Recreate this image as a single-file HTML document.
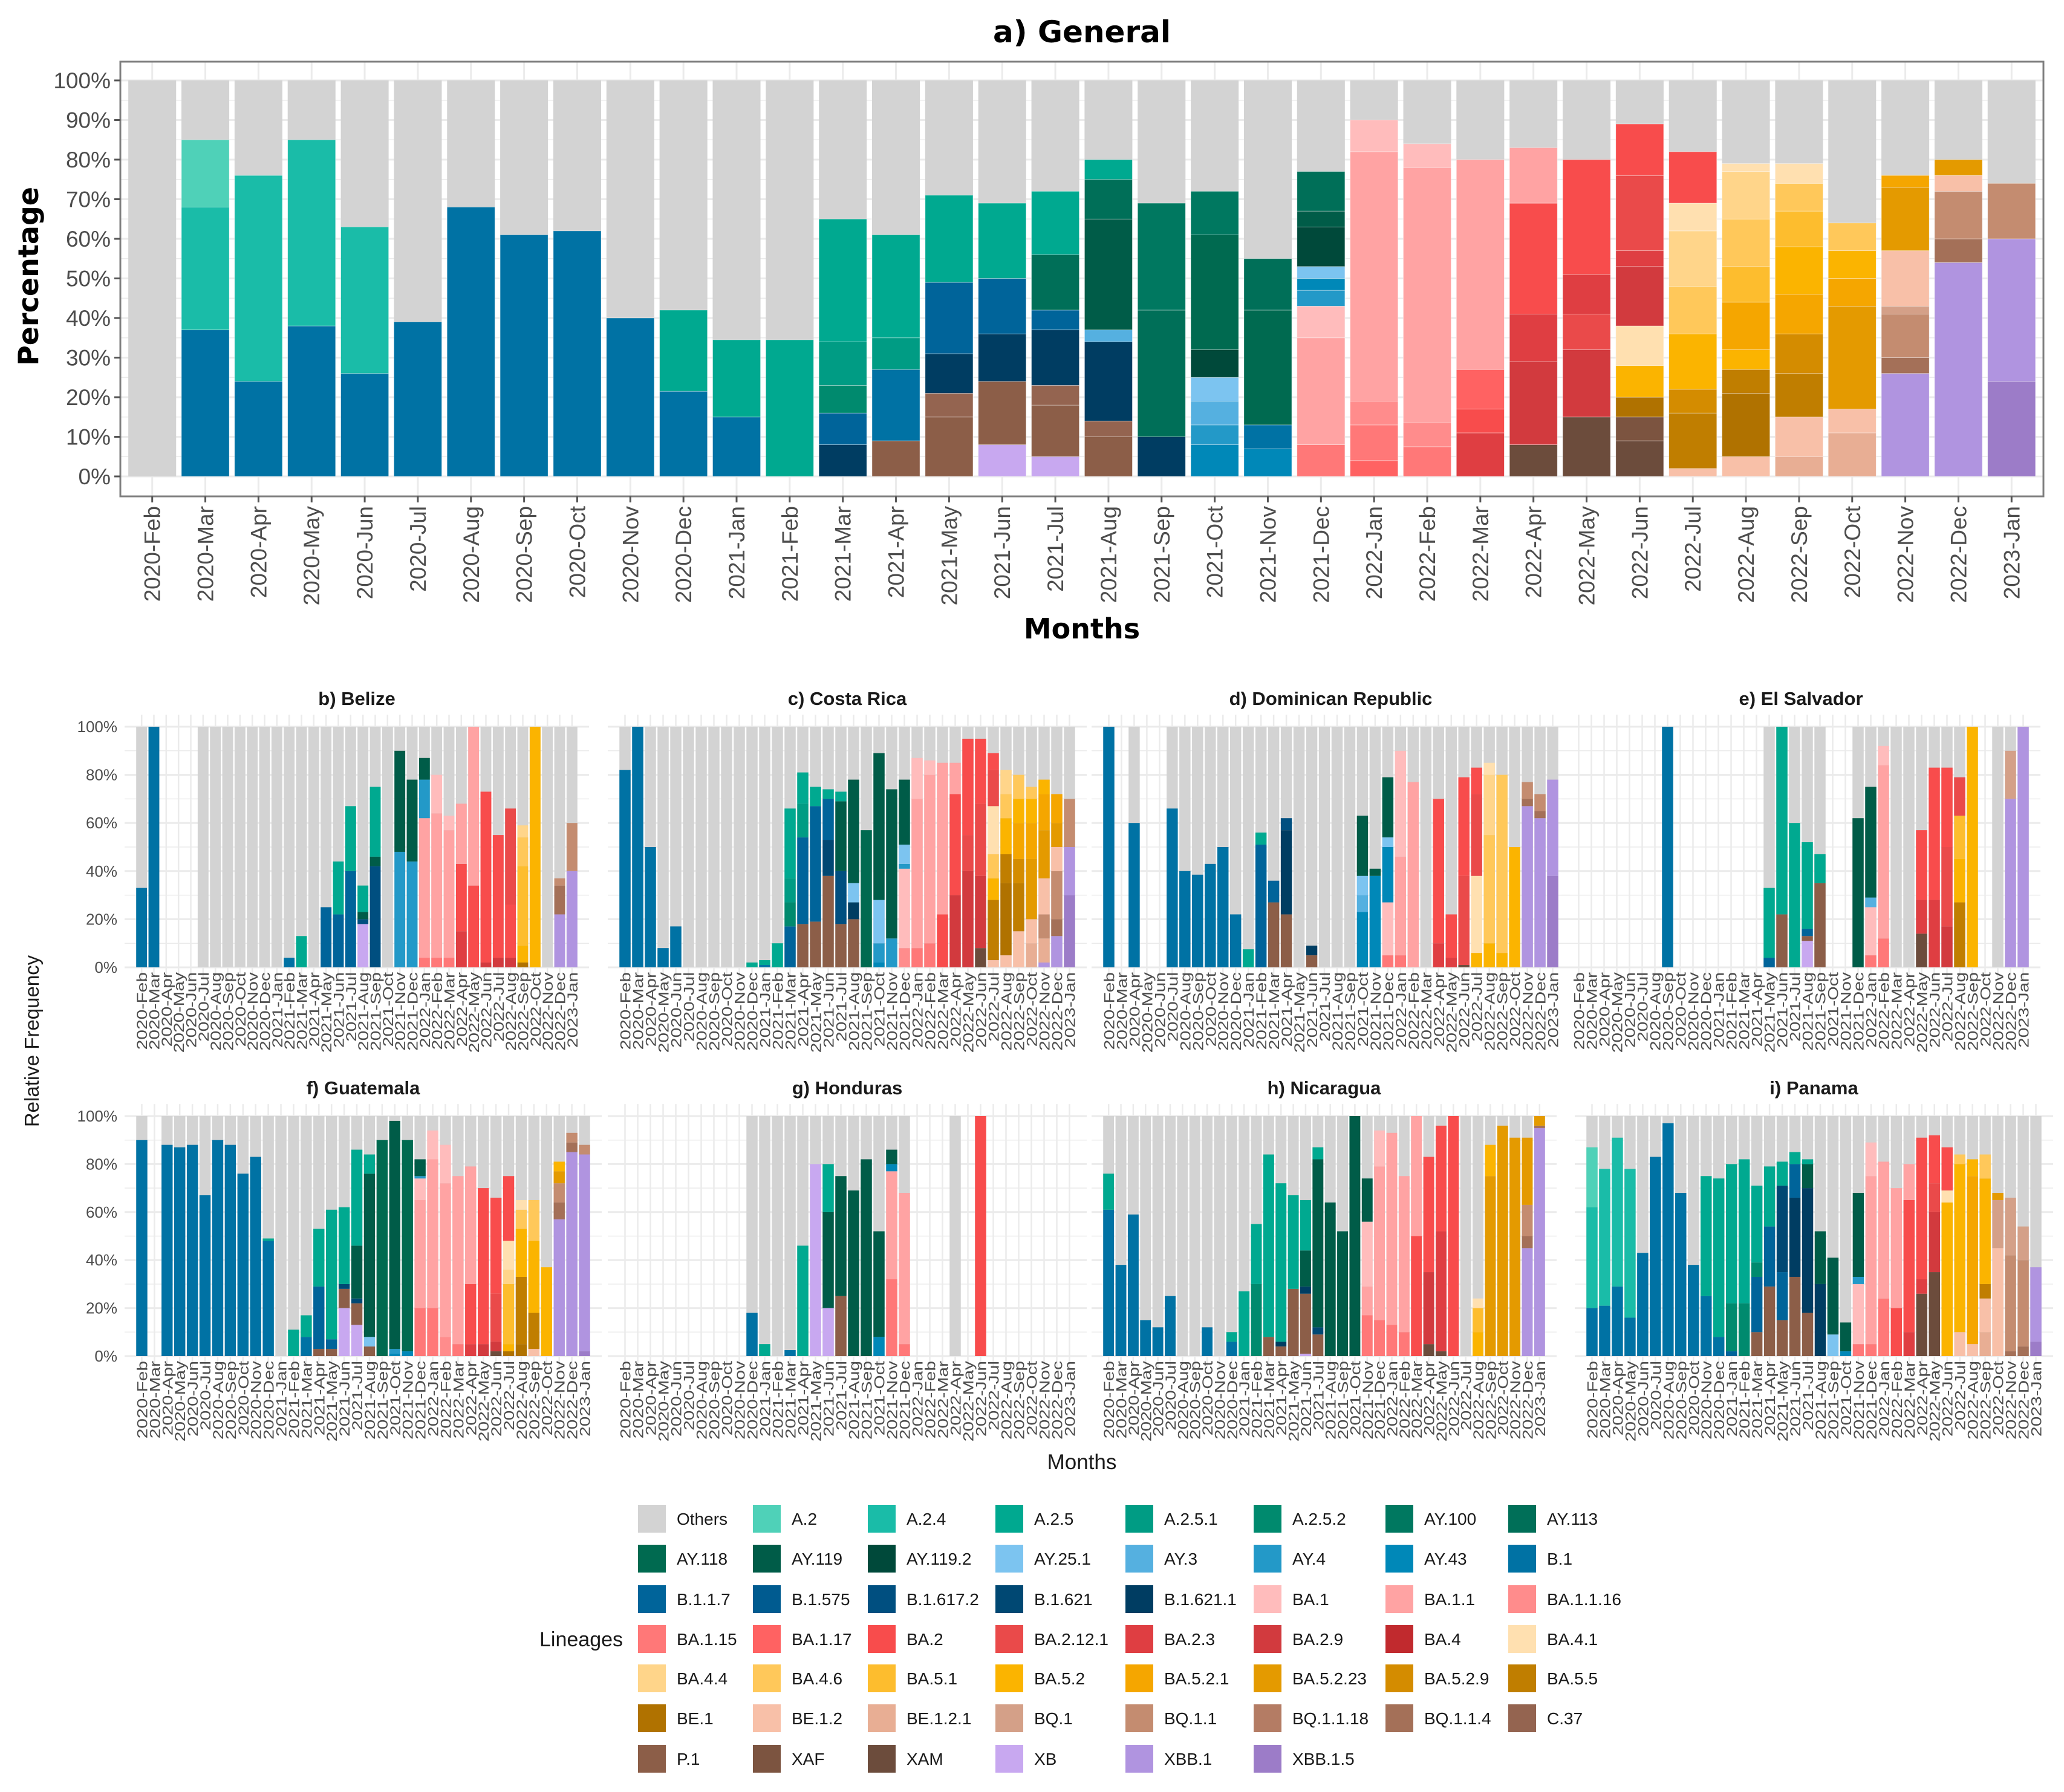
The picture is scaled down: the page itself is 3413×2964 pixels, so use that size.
<!DOCTYPE html>
<html><head><meta charset="utf-8"><style>
html,body{margin:0;padding:0;background:#fff}
svg{display:block;font-family:"Liberation Sans",sans-serif}
</style></head><body>
<svg id="chart" width="3413" height="2964" viewBox="0 0 3413 2964" xmlns="http://www.w3.org/2000/svg"></svg>
<script>
const months = ["2020-Feb","2020-Mar","2020-Apr","2020-May","2020-Jun","2020-Jul","2020-Aug","2020-Sep","2020-Oct","2020-Nov","2020-Dec","2021-Jan","2021-Feb","2021-Mar","2021-Apr","2021-May","2021-Jun","2021-Jul","2021-Aug","2021-Sep","2021-Oct","2021-Nov","2021-Dec","2022-Jan","2022-Feb","2022-Mar","2022-Apr","2022-May","2022-Jun","2022-Jul","2022-Aug","2022-Sep","2022-Oct","2022-Nov","2022-Dec","2023-Jan"];
const lineageNames = ["Others","A.2","A.2.4","A.2.5","A.2.5.1","A.2.5.2","AY.100","AY.113","AY.118","AY.119","AY.119.2","AY.25.1","AY.3","AY.4","AY.43","B.1","B.1.1.7","B.1.575","B.1.617.2","B.1.621","B.1.621.1","BA.1","BA.1.1","BA.1.1.16","BA.1.15","BA.1.17","BA.2","BA.2.12.1","BA.2.3","BA.2.9","BA.4","BA.4.1","BA.4.4","BA.4.6","BA.5.1","BA.5.2","BA.5.2.1","BA.5.2.23","BA.5.2.9","BA.5.5","BE.1","BE.1.2","BE.1.2.1","BQ.1","BQ.1.1","BQ.1.1.18","BQ.1.1.4","C.37","P.1","XAF","XAM","XB","XBB.1","XBB.1.5"];
const lineageColors = ["#d3d3d3","#4fd1b8","#1abca8","#00a990","#009c84","#008a6e","#007860","#006f58","#006a50","#005c48","#00493a","#7cc4f0","#55b0e0","#2399c8","#0088b8","#0072a4","#00649a","#005b90","#004f80","#004873","#003d62","#ffbcbc","#ffa3a3","#ff8c8c","#ff7878","#ff6262","#f84c4c","#ea4a4a","#df3e42","#d23a3e","#c12a2e","#ffe0b0","#ffd58a","#ffc85a","#fdbd2e","#fbb400","#f5a600","#e49a00","#d48c00","#c07e00","#b07200","#f8c0a8","#e8ae94","#d4a088","#c48c70","#b47c64","#a47058","#946450","#8c5e48","#7c5440","#6c4c3c","#c8a8f0","#b094e0","#9c7cc8"];

const generalStacks = ["","B.1:37,A.2.4:31,A.2:17","B.1:24,A.2.4:52","B.1:38,A.2.4:47","B.1:26,A.2.4:37","B.1:39","B.1:68","B.1:61","B.1:62","B.1:40","B.1:21.5,A.2.5:20.5","B.1:15,A.2.5:19.5","A.2.5:34.5","B.1.621.1:8,B.1.1.7:8,A.2.5.2:7,A.2.5.1:11,A.2.5:31","P.1:9,B.1:18,A.2.5.1:8,A.2.5:26","P.1:15,C.37:6,B.1.621.1:10,B.1.1.7:18,A.2.5:22","XB:8,P.1:16,B.1.621.1:12,B.1.1.7:14,A.2.5:19","XB:5,P.1:13,C.37:5,B.1.621.1:14,B.1.1.7:5,AY.113:14,A.2.5:16","P.1:10,C.37:4,B.1.621.1:20,AY.3:3,AY.119:28,AY.113:10,A.2.5:5","B.1.621.1:10,AY.113:32,AY.100:27","AY.43:8,AY.4:5,AY.3:6,AY.25.1:6,AY.119.2:7,AY.118:29,AY.100:11","AY.43:7,B.1:6,AY.118:29,AY.113:13","BA.1.15:8,BA.1.1:27,BA.1:8,AY.4:4,AY.43:3,AY.25.1:3,AY.119.2:10,AY.119:4,AY.113:10","BA.1.17:4,BA.1.15:9,BA.1.1.16:6,BA.1.1:63,BA.1:8","BA.1.15:7.5,BA.1.1.16:6,BA.1.1:64.5,BA.1:6","BA.2.3:11,BA.2:6,BA.1.17:10,BA.1.1:53","XAM:8,BA.2.9:21,BA.2.3:12,BA.2:28,BA.1.1:14","XAM:15,BA.2.9:17,BA.2.12.1:9,BA.2.3:10,BA.2:29","XAM:9,XAF:6,BE.1:5,BA.5.2:8,BA.4.1:10,BA.2.9:15,BA.2.3:4,BA.2.12.1:19,BA.2:13","BE.1.2:2,BA.5.5:14,BA.5.2.9:6,BA.5.2:14,BA.4.6:12,BA.4.4:14,BA.4.1:7,BA.2:13","BE.1.2:5,BE.1:16,BA.5.5:6,BA.5.2:5,BA.5.2.1:12,BA.5.1:9,BA.4.6:12,BA.4.4:12,BA.4.1:2","BE.1.2.1:5,BE.1.2:10,BA.5.5:11,BA.5.2.9:10,BA.5.2.1:10,BA.5.2:12,BA.5.1:9,BA.4.6:7,BA.4.1:5","BE.1.2.1:11,BE.1.2:6,BA.5.2.23:26,BA.5.2.1:7,BA.5.2:7,BA.4.6:7","XBB.1:26,BQ.1.1.4:4,BQ.1.1:11,BQ.1:2,BE.1.2:14,BA.5.2.23:16,BA.5.2.1:3","XBB.1:54,BQ.1.1.4:6,BQ.1.1:12,BE.1.2:4,BA.5.2.23:4","XBB.1.5:24,XBB.1:36,BQ.1.1:14"];

const belizeStacks = ["B.1:33","B.1:100",null,null,null,"","","","","","","","B.1:4","A.2.5:13","","B.1.1.7:25","B.1.1.7:22,A.2.5:22","B.1.1.7:40,A.2.5:27","XB:18,B.1.617.2:2,AY.119:3,A.2.5:11","B.1.617.2:42,AY.119:4,A.2.5:29","","AY.4:48,AY.119:42","AY.4:44,AY.119:34","BA.1.15:4,BA.1.1:58,AY.4:16,AY.119:9","BA.1.15:4,BA.1.1:60,BA.1:16","BA.1.15:4,BA.1.1:53,BA.1:6","BA.2.3:15,BA.2:28,BA.1.1:25","BA.2:34,BA.1.1:66","BA.2.9:2,BA.2:71","BA.2.9:4,BA.2:51","BA.2.9:4,BA.2:22,BA.2.12.1:40","BE.1:2,BA.5.2:7,BA.5.1:33,BA.4.6:12,BA.4.4:5","BA.5.2:100","","XBB.1:22,BQ.1.1.4:12,BQ.1.1:3","XBB.1:40,BQ.1.1:20"];
const costaRicaStacks = ["B.1:82","B.1:100","B.1:50","B.1:8","B.1:17","","","","","","A.2.5:2","B.1:1,A.2.5:2","A.2.5:10","B.1.1.7:17,A.2.5.2:10,A.2.5.1:10,A.2.5:29","P.1:18,B.1.1.7:36,A.2.5.1:14,A.2.5:13","P.1:19,B.1.1.7:48,A.2.5:8","P.1:38,B.1.621:15,B.1.1.7:17,A.2.5:4","P.1:18,B.1.617.2:22,AY.119:29,A.2.5:4","P.1:20,B.1.621.1:7,AY.25.1:8,AY.119:43","AY.118:57","AY.43:2,AY.4:8,AY.25.1:18,AY.119:61","AY.4:12,AY.119:62","BA.1.1.16:8,BA.1:33,AY.4:2,AY.25.1:8,AY.119:27","BA.1.15:8,BA.1.1:62,BA.1:17","BA.1.15:10,BA.1.1:70,BA.1:6","BA.2:22,BA.1.1:63","BA.2.9:30,BA.2:42,BA.1.1:13","BA.2.9:40,BA.2.12.1:15,BA.2:40","XAM:8,BA.2.9:30,BA.2.12.1:30,BA.2:27","BE.1.2:3,BA.5.5:25,BA.5.2:9,BA.4.6:10,BA.4.1:20,BA.2.12.1:15,BA.2:7","BE.1.2:5,BE.1:30,BA.5.5:12,BA.5.2:15,BA.4.6:10,BA.4.4:10","BE.1.2:15,BA.5.5:20,BA.5.2.9:10,BA.5.2.1:15,BA.5.2:10,BA.4.6:10","BE.1.2.1:10,BE.1.2:10,BA.5.2.23:25,BA.5.2.1:15,BA.5.2:10,BA.4.6:5","XBB.1:2,BE.1.2.1:10,BQ.1.1:10,BE.1.2:15,BA.5.2.23:20,BA.5.2.1:15,BA.5.2:6","XBB.1:13,BQ.1.1.4:7,BQ.1.1:20,BE.1.2:10,BA.5.2.23:10,BA.5.2.1:12","XBB.1.5:30,XBB.1:20,BQ.1.1:20"];
const dominicanStacks = ["B.1:100",null,"B.1:60",null,null,"B.1:66","B.1:40","B.1:38.5","B.1:43","B.1:50","B.1:22","A.2.5:7.5","B.1.1.7:51,A.2.5:5","P.1:27,B.1.1.7:9","P.1:22,B.1.621.1:35,B.1.617.2:5","","P.1:5,B.1.621.1:4","","","","AY.43:23,AY.3:7,AY.25.1:8,AY.119:25","AY.43:38,AY.119:3","BA.1.15:5,BA.1:22,AY.43:23,AY.25.1:4,AY.119:25","BA.1.15:5,BA.1.1:41,BA.1:44","BA.1.1:77","","BA.2.3:10,BA.2:60","BA.2.3:4,BA.2:18","XAM:1,BA.2.12.1:37,BA.2:41","BA.5.2:6,BA.4.1:32,BA.2.12.1:34,BA.2:11","BA.5.2:10,BA.4.6:45,BA.4.4:25,BA.4.1:5","BA.5.2:6,BA.4.6:74","BA.5.2:50","XBB.1:67,BQ.1.1.4:3,BQ.1.1:7","XBB.1:62,BQ.1.1.4:3,BQ.1.1:7","XBB.1.5:38,XBB.1:40"];
const elSalvadorStacks = [null,null,null,null,null,null,null,"B.1:100",null,null,null,null,null,null,null,"B.1.1.7:4,A.2.5:29","P.1:22,A.2.5:78","A.2.5:60","XB:11,P.1:2,B.1.1.7:3,A.2.5:36","P.1:35,A.2.5:12",null,null,"AY.119:62","BA.1.15:5,BA.1:20,AY.3:4,AY.119:46","BA.1.15:12,BA.1.1:72,BA.1:8","","","XAM:14,BA.2.3:14,BA.2:29","BA.2.3:28,BA.2:55","BA.2.9:17,BA.2.12.1:33,BA.2:33","BA.5.5:27,BA.5.2:18,BA.5.1:18,BA.2.12.1:16","BA.5.2:100",null,"","XBB.1:70,BQ.1:20","XBB.1:100"];
const guatemalaStacks = ["B.1:90",null,"B.1:88","B.1:87","B.1:88","B.1:67","B.1:90","B.1:88","B.1:76","B.1:83","B.1:48,A.2.5:1","","A.2.5:11","B.1:8,A.2.5:9","P.1:3,B.1.1.7:26,A.2.5:24","P.1:3,B.1.1.7:4,A.2.5:54","XB:20,P.1:8,B.1.621:2,A.2.5:32","XB:13,P.1:9,B.1.621:2,AY.119:22,A.2.5:40","P.1:4,AY.25.1:4,AY.119:68,A.2.5:8","AY.118:90","AY.43:1,AY.4:2,AY.119:95","AY.43:2,AY.118:88","BA.1.15:20,BA.1.1:45,BA.1:9,AY.4:1,AY.119:7","BA.1.15:20,BA.1.1:62,BA.1:12","BA.1.1.16:8,BA.1.1:64,BA.1:16","BA.1.15:5,BA.1.1:70","BA.2.3:5,BA.2:25,BA.1.1:49","BA.2.9:5,BA.2:65","XAM:2,BA.2.9:4,BA.2.12.1:20,BA.2:40","BE.1:2,BA.5.2:3,BA.5.1:25,BA.4.4:6,BA.4.1:12,BA.2:27","BE.1:5,BA.5.5:28,BA.5.2:20,BA.4.6:8,BA.4.1:4","BE.1.2:3,BA.5.5:15,BA.5.2:30,BA.4.6:17","BA.5.2:37","XBB.1:57,BQ.1.1.4:7,BQ.1.1:8,BA.5.2.23:5,BA.5.2:4","XBB.1:85,BQ.1.1.4:4,BQ.1.1:4","XBB.1.5:2,XBB.1:82,BQ.1.1:4"];
const hondurasStacks = [null,null,null,null,null,null,null,null,null,null,"B.1:18","A.2.5:5","","B.1:2.5","A.2.5:46","XB:80","XB:20,AY.119:40,A.2.5:20","P.1:25,AY.119:50","AY.119:69","AY.119:82","AY.43:8,AY.119:44","BA.1.15:32,BA.1.1:45,AY.43:3,AY.119:6","BA.1.15:5,BA.1.1:63",null,null,null,"",null,"BA.2:100",null,null,null,null,null,null,null];
const nicaraguaStacks = ["B.1:61,A.2.5:15","B.1:38","B.1:59","B.1:15","B.1:12","B.1:25","","","B.1:12","","B.1:6,A.2.5:4","A.2.5:27","A.2.5.2:30,A.2.5:25","P.1:8,A.2.5:76","P.1:4,B.1.621.1:2,A.2.5:66","P.1:28,A.2.5:39","XB:1,P.1:25,B.1.621.1:3,AY.119:15,A.2.5:21","P.1:9,B.1.621:3,AY.119:70,A.2.5:5","AY.119:64","AY.119:52","AY.119:100","BA.1.15:17,BA.1.1:12,BA.1:27,AY.119:18","BA.1.15:15,BA.1.1:64,BA.1:15","BA.1.15:13,BA.1.1:80","BA.1.15:10,BA.1.1:65","BA.2:50,BA.1.1:50","XAM:5,BA.2.9:30,BA.2:48","XAM:2,BA.2.3:50,BA.2:44","BA.2:100","","BA.5.2:10,BA.5.1:10,BA.4.1:4","BA.5.2.23:75,BA.5.2:13","BA.5.2.23:96","BA.5.2.23:91","XBB.1:45,BQ.1.1.4:5,BQ.1.1:13,BA.5.2.23:28","XBB.1:95,BQ.1.1.4:1,BA.5.2.23:4"];
const panamaStacks = ["B.1:20,A.2.4:42,A.2:25","B.1:21,A.2.4:57","B.1:29,A.2.4:62","B.1:16,A.2.4:62","B.1:43","B.1:83","B.1:97","B.1:68","B.1:38","B.1:25,A.2.5:50","B.1:8,A.2.5:66","B.1.1.7:2,A.2.5.2:20,A.2.5:58","A.2.5.2:22,A.2.5:60","P.1:10,B.1.1.7:23,A.2.5.2:6,A.2.5:32","P.1:29,B.1.1.7:25,A.2.5:25","P.1:15,B.1.1.7:20,B.1.621:36,A.2.5:10","P.1:33,B.1.621.1:33,B.1.1.7:14,A.2.5:5","P.1:18,B.1.621.1:52,AY.119:10,A.2.5:2","B.1.621.1:30,AY.119:22","AY.25.1:9,AY.119:32","AY.43:2,AY.119:12","BA.1.15:5,BA.1:25,AY.4:3,AY.119:35","BA.1.15:5,BA.1.1:70,BA.1:14","BA.1.15:24,BA.1.1:57","BA.2:20,BA.1.1:50","BA.2.3:10,BA.2:55,BA.1.1:15","XAM:26,BA.2.3:6,BA.2:59","XAM:35,BA.2.9:25,BA.2.12.1:12,BA.2:20","BA.5.2:64,BA.4.1:5,BA.2:18","BE.1.2:10,BA.5.2:70,BA.4.6:4","BE.1.2:5,BA.5.2.1:70,BA.5.2:7","BE.1.2.1:10,BE.1.2:14,BA.5.5:6,BA.5.2:44,BA.4.6:10","BE.1.2:45,BQ.1:20,BA.5.2.23:3","BQ.1.1.4:2,BQ.1.1:40,BQ.1:24","BQ.1.1.4:4,BQ.1.1:36,BQ.1:14","XBB.1.5:6,XBB.1:31"];
const yTicksGeneral = [0,10,20,30,40,50,60,70,80,90,100];
const yTicksSmall = [0,20,40,60,80,100];

const NS="http://www.w3.org/2000/svg";
const svg=document.getElementById('chart');
function el(tag,attrs,parent){const e=document.createElementNS(NS,tag);for(const k in attrs)e.setAttribute(k,attrs[k]);(parent||svg).appendChild(e);return e;}
function colorOf(n){const i=lineageNames.indexOf(n);return i<0?"#999":lineageColors[i];}
function parseStack(s){if(!s)return [];return s.split(',').map(p=>{const i=p.lastIndexOf(':');return [p.slice(0,i),parseFloat(p.slice(i+1))];});}

/* ---------- Panel a ---------- */
const A={l:199,r:3379,t:102,b:821,y0:788,y100:133};
const aPitch=(A.r-A.l)/(months.length+0.2);
function ax(i){return A.l+0.6*aPitch+i*aPitch;}
function ay(v){return A.y0+(A.y100-A.y0)*v/100;}
const gA=el('g',{});


el('rect',{x:A.l,y:A.t,width:A.r-A.l,height:A.b-A.t,fill:'#fff'},gA);
for(let v=0;v<=100;v+=5){el('line',{x1:A.l,x2:A.r,y1:ay(v),y2:ay(v),stroke:'#ebebeb','stroke-width':v%10?1.5:3},gA);}
months.forEach((m,i)=>{el('line',{x1:ax(i),x2:ax(i),y1:A.t,y2:A.b,stroke:'#ebebeb','stroke-width':3},gA);});
const aw=aPitch*0.9;
generalStacks.forEach((s,i)=>{
  const bg=el('rect',{x:ax(i)-aw/2,y:ay(100),width:aw,height:ay(0)-ay(100),fill:lineageColors[0]},gA);
  
  
  let c=0;
  parseStack(s).forEach(([n,v])=>{
    const r=el('rect',{x:ax(i)-aw/2,y:ay(c+v),width:aw,height:ay(c)-ay(c+v),fill:colorOf(n),stroke:'#fff','stroke-width':0.8,'stroke-opacity':0.5},gA);
    
    
    c+=v;
  });
});
el('rect',{x:A.l,y:A.t,width:A.r-A.l,height:A.b-A.t,fill:'none',stroke:'#7f7f7f','stroke-width':3},gA);
yTicksGeneral.forEach(v=>{
  el('line',{x1:A.l-10,x2:A.l,y1:ay(v),y2:ay(v),stroke:'#555','stroke-width':3},gA);
  const t=el('text',{x:A.l-16,y:ay(v)+13,'text-anchor':'end','font-size':37,fill:'#4d4d4d'},gA);
  t.textContent=v+'%';
  
  
});
months.forEach((m,i)=>{
  el('line',{x1:ax(i),x2:ax(i),y1:A.b,y2:A.b+10,stroke:'#555','stroke-width':3},gA);
  const t=el('text',{transform:`translate(${ax(i)+13},${A.b+16}) rotate(-90)`,'text-anchor':'end','font-size':37,fill:'#4d4d4d'},gA);
  t.textContent=m;
  
  
});
{const t=el('text',{x:1789,y:70,'text-anchor':'middle','font-size':50,'font-weight':'bold',fill:'#000','font-family':'"DejaVu Sans",sans-serif'});t.textContent='a) General';

}
{const t=el('text',{transform:'translate(63,457) rotate(-90)','text-anchor':'middle','font-size':46,'font-weight':'bold',fill:'#000','font-family':'"DejaVu Sans",sans-serif'});t.textContent='Percentage';

}
{const t=el('text',{x:1789,y:1056,'text-anchor':'middle','font-size':46,'font-weight':'bold',fill:'#000','font-family':'"DejaVu Sans",sans-serif'});t.textContent='Months';

}

/* ---------- Small panels ---------- */
const rows=[{y0:1600,y100:1202,title:1166},{y0:2243,y100:1846,title:1810}];
const panels=[
 {title:'b) Belize',data:belizeStacks,x0:224,x1:956,row:0,ylab:true},
 {title:'c) Costa Rica',data:costaRicaStacks,x0:1023,x1:1779,row:0},
 {title:'d) Dominican Republic',data:dominicanStacks,x0:1823,x1:2578,row:0},
 {title:'e) El Salvador',data:elSalvadorStacks,x0:2600,x1:3356,row:0},
 {title:'f) Guatemala',data:guatemalaStacks,x0:224,x1:977,row:1,ylab:true},
 {title:'g) Honduras',data:hondurasStacks,x0:1023,x1:1779,row:1},
 {title:'h) Nicaragua',data:nicaraguaStacks,x0:1823,x1:2556,row:1},
 {title:'i) Panama',data:panamaStacks,x0:2622,x1:3377,row:1}
];
panels.forEach(p=>{
  const R=rows[p.row];
  const pitch=(p.x1-p.x0)/36, bw=pitch*0.88;
  const px=i=>p.x0+pitch*(i+0.5);
  const py=v=>R.y0+(R.y100-R.y0)*v/100;
  const g=el('g',{});
  
  
  const gl=p.x0-18, gr=p.x1+18;
  for(let v=0;v<=100;v+=10){el('line',{x1:gl,x2:gr,y1:py(v),y2:py(v),stroke:'#ebebeb','stroke-width':v%20?1.5:3},g);}
  months.forEach((m,i)=>{el('line',{x1:px(i),x2:px(i),y1:py(105),y2:py(-5),stroke:'#ebebeb','stroke-width':2.5},g);});
  p.data.forEach((s,i)=>{
    if(s===null)return;
    const bg=el('rect',{x:px(i)-bw/2,y:py(100),width:bw,height:py(0)-py(100),fill:lineageColors[0]},g);
    
    
    let c=0;
    parseStack(s).forEach(([n,v])=>{
      const r=el('rect',{x:px(i)-bw/2,y:py(c+v),width:bw,height:py(c)-py(c+v),fill:colorOf(n)},g);
      
      
      c+=v;
    });
  });
  months.forEach((m,i)=>{
    const t=el('text',{transform:`translate(${px(i)+9},${R.y0+8}) rotate(-90) scale(1,0.8)`,'text-anchor':'end','font-size':30,fill:'#4d4d4d'},g);
    t.textContent=m;
    
    
  });
  if(p.ylab){yTicksSmall.forEach(v=>{
    const t=el('text',{x:p.x0-30,y:py(v)+9,'text-anchor':'end','font-size':26,fill:'#4d4d4d'},g);
    t.textContent=v+'%';
    
    
  });}
  const tt=el('text',{x:(p.x0+p.x1)/2,y:R.title,'text-anchor':'middle','font-size':31,'font-weight':'bold',fill:'#1a1a1a'},g);
  tt.textContent=p.title;
  
  
});
{const t=el('text',{transform:'translate(64,1722) rotate(-90)','text-anchor':'middle','font-size':33,fill:'#1a1a1a'});t.textContent='Relative Frequency';

}
{const t=el('text',{x:1789,y:2430,'text-anchor':'middle','font-size':35,fill:'#1a1a1a'});t.textContent='Months';

}

/* ---------- Legend ---------- */
const legColX=[1055,1245,1435,1646,1861,2073,2291,2494];
const legRowY=[2512,2578,2645,2711,2776,2842,2909];
const gL=el('g',{});


{const t=el('text',{x:892,y:2723,'font-size':34,fill:'#1a1a1a'},gL);t.textContent='Lineages';

}
lineageNames.forEach((n,i)=>{
  const col=i%8,row=Math.floor(i/8);
  const x=legColX[col],y=legRowY[row];
  const r=el('rect',{x:x,y:y-23,width:46,height:46,fill:lineageColors[i]},gL);
  
  
  const t=el('text',{x:x+64,y:y+10,'font-size':28,fill:'#1a1a1a'},gL);
  t.textContent=n;
  
  
});
</script>
</body></html>
